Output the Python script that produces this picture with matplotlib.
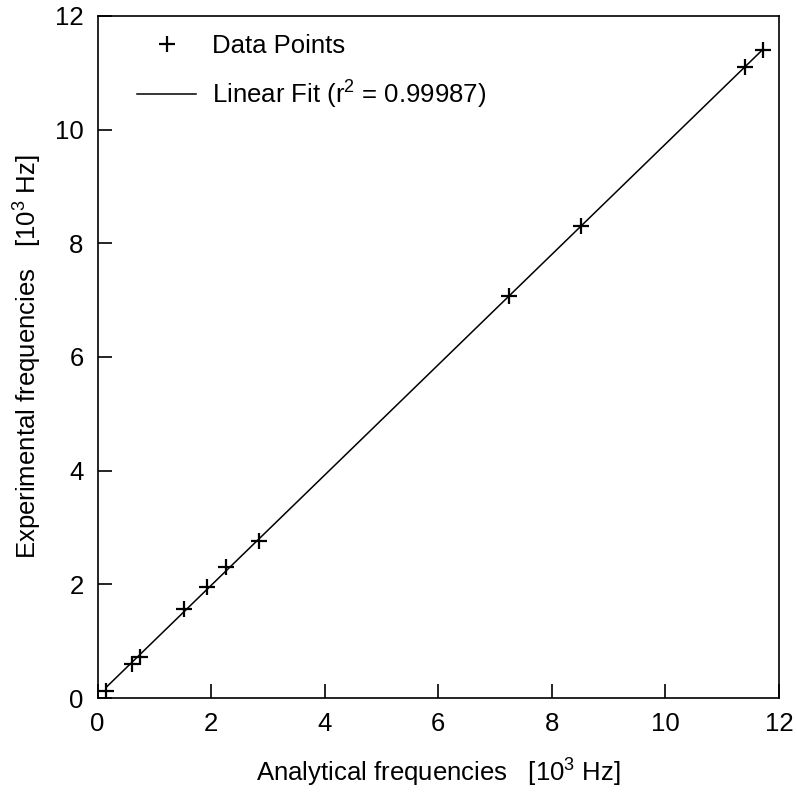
import numpy as np
import matplotlib
matplotlib.use("Agg")
import matplotlib.pyplot as plt

# data (10^3 Hz)
analytical = [0.15, 0.60, 0.75, 1.53, 1.93, 2.26, 2.85, 7.25, 8.51, 11.41, 11.71]
experimental = [0.13, 0.60, 0.73, 1.57, 1.96, 2.31, 2.77, 7.07, 8.30, 11.11, 11.40]
r2_text = "0.99987"

FS = 18.5
plt.rcParams["font.family"] = ["Liberation Sans", "DejaVu Sans"]
plt.rcParams["font.size"] = FS
plt.rcParams["mathtext.fontset"] = "custom"
plt.rcParams["mathtext.rm"] = "Liberation Sans"
plt.rcParams["mathtext.it"] = "Liberation Sans"
plt.rcParams["mathtext.default"] = "regular"

fig = plt.figure(figsize=(7.97, 7.92), dpi=100)
ax = fig.add_axes([97.5 / 797, 1 - 698 / 792, (779 - 97.5) / 797, (698 - 16) / 792])

x = np.array(analytical)
y = np.array(experimental)
slope, icept = np.polyfit(x, y, 1)
xf = np.array([x.min(), x.max()])

ax.plot(x, y, linestyle="none", marker="+", color="black",
        markersize=11, markeredgewidth=1.6, label="Data Points")
ax.plot(xf, slope * xf + icept, color="black", linewidth=1.1,
        label=f"Linear Fit (r$^{{2}}$ = {r2_text})")

ax.set_xlim(0, 12)
ax.set_ylim(0, 12)
ax.set_xticks(range(0, 13, 2))
ax.set_yticks(range(0, 13, 2))
ax.tick_params(direction="in", length=10, width=1.2, pad=10, labelsize=FS)
for s in ax.spines.values():
    s.set_linewidth(1.2)

ax.set_xlabel("Analytical frequencies   [10$^{3}$ Hz]", fontsize=FS, labelpad=15)
ax.set_ylabel("Experimental frequencies   [10$^{3}$ Hz]", fontsize=FS, labelpad=8)

ax.legend(loc="upper left", frameon=False, fontsize=FS, handlelength=2.3,
          handletextpad=0.6, labelspacing=0.8, borderaxespad=0.3,
          bbox_to_anchor=(0.032, 1.0))

fig.savefig("out.png", dpi=100)
